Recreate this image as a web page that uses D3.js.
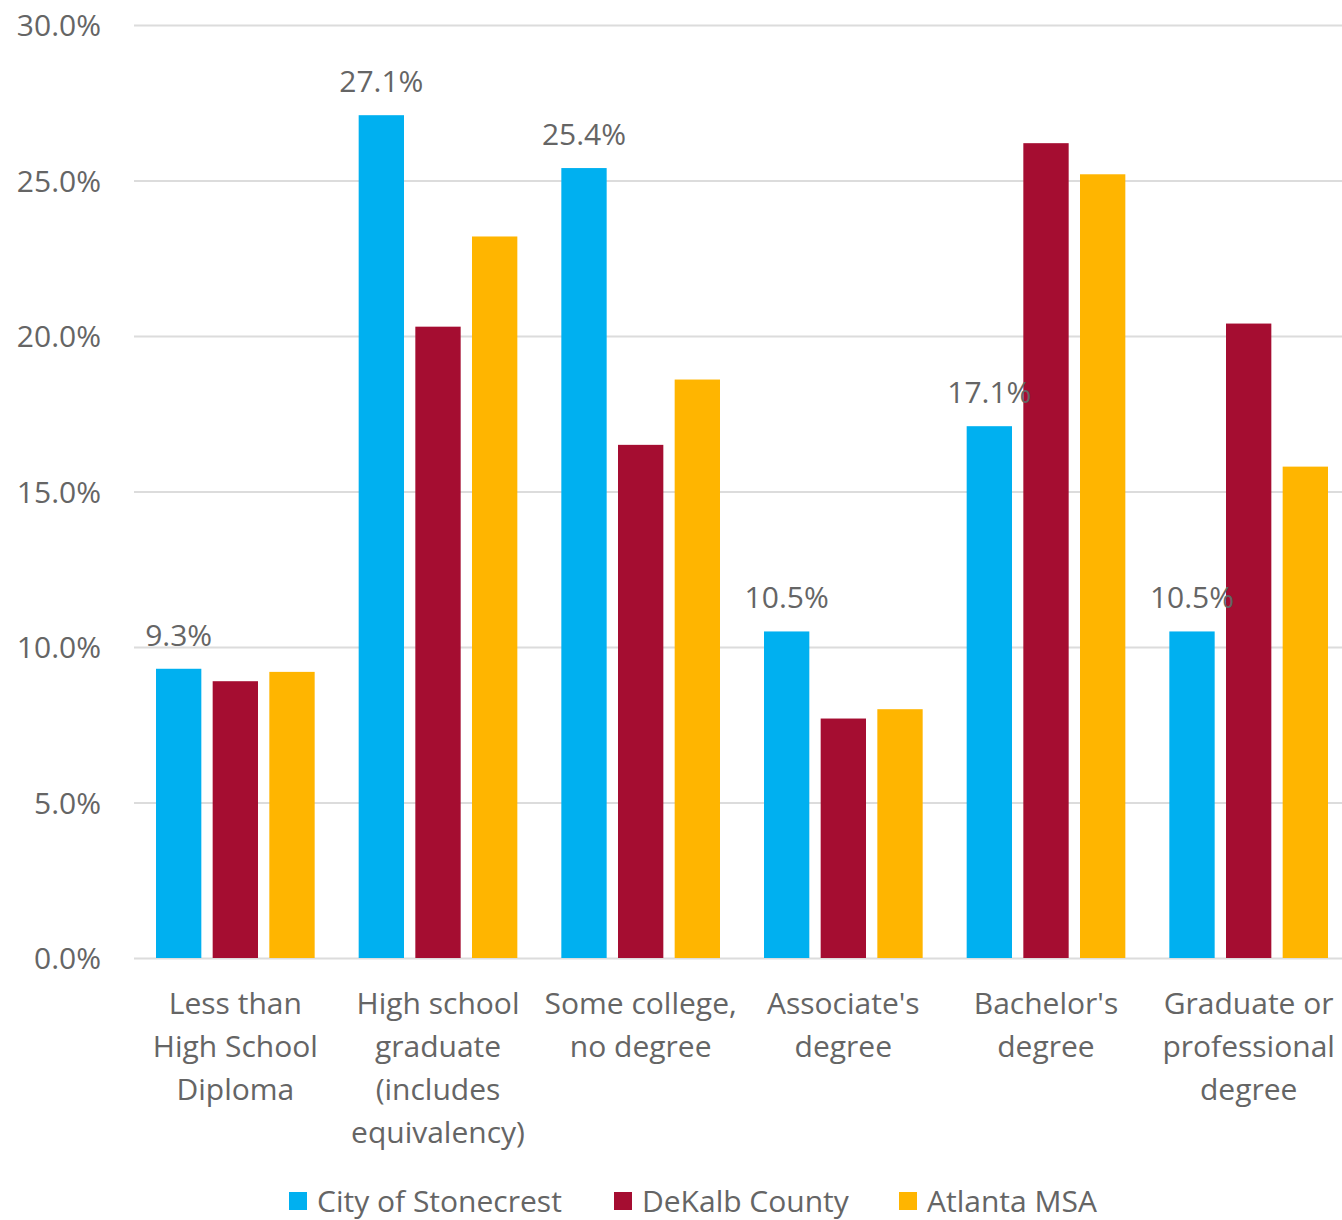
<!DOCTYPE html>
<html><head><meta charset="utf-8">
<script src="https://cdn.jsdelivr.net/npm/d3@7"></script>
<style>body{margin:0;background:#fff}svg{display:block}text{font-family:"Open Sans",Lato,sans-serif;fill:#656565}</style>
</head><body><svg id="c" width="1342" height="1220"></svg>
<script>
const categories = [
  ["Less than","High School","Diploma"],
  ["High school","graduate","(includes","equivalency)"],
  ["Some college,","no degree"],
  ["Associate's","degree"],
  ["Bachelor's","degree"],
  ["Graduate or","professional","degree"]
];
const seriesNames = ["City of Stonecrest","DeKalb County","Atlanta MSA"];
const stonecrest = [9.3, 27.1, 25.4, 10.5, 17.1, 10.5];
const dekalb = [8.9, 20.3, 16.5, 7.7, 26.2, 20.4];
const atlanta = [9.2, 23.2, 18.6, 8.0, 25.2, 15.8];
const yTicks = [0, 5, 10, 15, 20, 25, 30];
const colors = ["#00B0F0", "#A50D31", "#FFB500"];

const series = [stonecrest, dekalb, atlanta];
const svg = d3.select("#c");
const FS = 30;
const m = {left:134, right:1350, top:25, bottom:958};
const x0 = d3.scaleBand().domain(d3.range(categories.length)).range([m.left, m.right]).paddingInner(0).paddingOuter(0);
const x1 = d3.scaleBand().domain(d3.range(series.length)).range([22, x0.bandwidth()-22]).paddingInner(0.2).paddingOuter(0);
const y = d3.scaleLinear().domain([0,30]).range([m.bottom, m.top]);

const yAxis = svg.append("g").attr("transform",`translate(${m.left},0)`)
  .call(d3.axisLeft(y).tickValues(yTicks).tickSize(-(m.right-m.left)).tickFormat(d=>d.toFixed(1)+"%"));
yAxis.select(".domain").remove();
yAxis.selectAll(".tick line").attr("stroke","#dcdcdc").attr("stroke-width",2);
yAxis.selectAll(".tick text").attr("x",-33).attr("font-size",FS).attr("fill","#656565").attr("dy","0.35em");

const g = svg.append("g");
series.forEach((vals,si)=>{
  g.selectAll(null).data(vals).enter().append("rect")
    .attr("x",(d,i)=>x0(i)+x1(si))
    .attr("width",x1.bandwidth())
    .attr("y",d=>y(d))
    .attr("height",d=>y(0)-y(d))
    .attr("fill",colors[si]);
});
g.selectAll(null).data(stonecrest).enter().append("text")
  .attr("x",(d,i)=>x0(i)+x1(0)+x1.bandwidth()/2)
  .attr("y",d=>y(d)-23)
  .attr("text-anchor","middle").attr("font-size",FS)
  .text(d=>d.toFixed(1)+"%");

const xl = svg.append("g");
categories.forEach((lines,i)=>{
  const t = xl.append("text").attr("text-anchor","middle").attr("font-size",FS);
  lines.forEach((l,j)=>{
    t.append("tspan").attr("x",x0(i)+x0.bandwidth()/2).attr("y",1014+j*43).text(l);
  });
});

const lg = svg.append("g");
const lx = [289, 614, 899];
seriesNames.forEach((n,i)=>{
  lg.append("rect").attr("x",lx[i]).attr("y",1192).attr("width",18).attr("height",18).attr("fill",colors[i]);
  lg.append("text").attr("x",lx[i]+28).attr("y",1212).attr("font-size",FS).text(n);
});
</script></body></html>
